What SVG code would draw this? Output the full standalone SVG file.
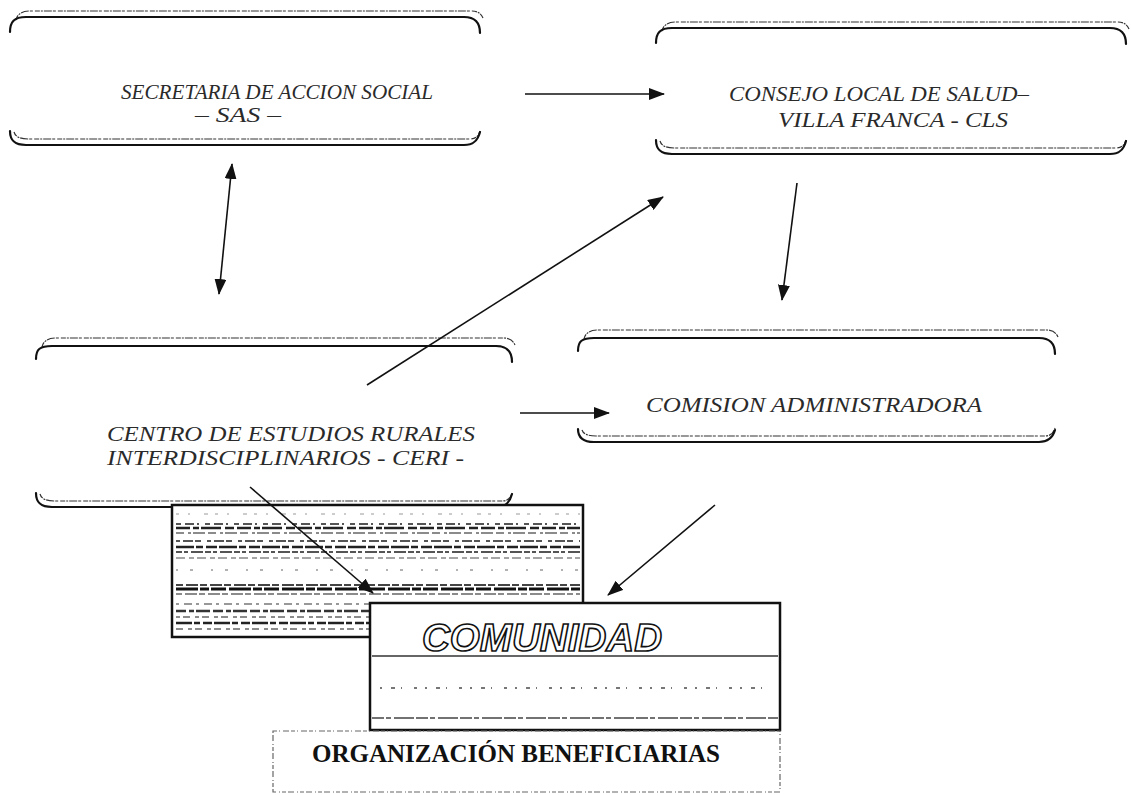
<svg xmlns="http://www.w3.org/2000/svg" width="1131" height="795" viewBox="0 0 1131 795">
<style>
.thick{fill:none;stroke:#111;stroke-width:2.2;stroke-linecap:round}
.thin{fill:none;stroke:#333;stroke-width:1.2;stroke-dasharray:5 1 2 1 8 1 3 2}
.lbl{font-family:"Liberation Serif","Times New Roman",serif;font-style:italic;font-size:21px;fill:#2a2a2a}
.con{fill:none;stroke:#111;stroke-width:1.6}
.noise{fill:none;stroke-linecap:butt}
</style>
<defs>
<marker id="ah" viewBox="0 0 16 12" refX="15" refY="6" markerWidth="16" markerHeight="12" markerUnits="userSpaceOnUse" orient="auto-start-reverse">
<path d="M0,0 L16,6 L0,12 z" fill="#111"/>
</marker>
</defs>
<rect width="1131" height="795" fill="#fff"/>

<g id="node-sas">
<path class="thin" d="M16,20 Q18,11 30,11 H472 Q480,11 483,18"/>
<path class="thick" d="M10,32 C10,22 14,17 26,17 H464 C475,17 480,22 480,33"/>
<path class="thin" d="M14,132 Q16,139 28,139 H470 Q478,139 480,131"/>
<path class="thick" d="M10,131 C10,140 14,145 26,145 H464 C474,145 478,140 480,132"/>
<text class="lbl" x="121" y="99" textLength="312" lengthAdjust="spacingAndGlyphs">SECRETARIA DE ACCION SOCIAL</text>
<text class="lbl" x="195" y="122" textLength="86" lengthAdjust="spacingAndGlyphs">– SAS –</text>
</g>

<g id="node-cls">
<path class="thin" d="M662,31 Q664,22 676,22 H1118 Q1126,22 1129,29"/>
<path class="thick" d="M656,43 C656,33 660,28 672,28 H1110 C1121,28 1126,33 1126,44"/>
<path class="thin" d="M660,141 Q662,148 674,148 H1116 Q1124,148 1126,140"/>
<path class="thick" d="M656,140 C656,149 660,154 672,154 H1110 C1120,154 1124,149 1126,141"/>
<text class="lbl" x="729" y="101" textLength="300" lengthAdjust="spacingAndGlyphs">CONSEJO LOCAL DE SALUD–</text>
<text class="lbl" x="778" y="127" textLength="230" lengthAdjust="spacingAndGlyphs">VILLA FRANCA - CLS</text>
</g>

<g id="node-ceri">
<path class="thin" d="M42,347 Q44,338 56,338 H504 Q512,338 515,345"/>
<path class="thick" d="M36,359 C36,349 40,346 52,346 H496 C507,346 512,351 512,362"/>
<path class="thin" d="M40,494 Q42,501 54,501 H502 Q510,501 512,493"/>
<path class="thick" d="M36,493 C36,502 40,507 52,507 H496 C506,507 510,502 512,494"/>
<text class="lbl" x="107" y="441" textLength="368" lengthAdjust="spacingAndGlyphs">CENTRO DE ESTUDIOS RURALES</text>
<text class="lbl" x="107" y="465" textLength="357" lengthAdjust="spacingAndGlyphs">INTERDISCIPLINARIOS  - CERI -</text>
</g>

<g id="node-comision">
<path class="thin" d="M584,339 Q586,330 598,330 H1047 Q1055,330 1058,337"/>
<path class="thick" d="M578,351 C578,341 582,338 594,338 H1039 C1050,338 1055,343 1055,354"/>
<path class="thin" d="M582,430 Q584,436 596,436 H1045 Q1053,436 1055,428"/>
<path class="thick" d="M578,429 C578,437 582,442 594,442 H1039 C1049,442 1053,437 1055,430"/>
<text class="lbl" x="646" y="412" textLength="336" lengthAdjust="spacingAndGlyphs">COMISION ADMINISTRADORA</text>
</g>

<g id="node-back">
<rect x="172" y="505" width="411" height="132" fill="#fff" stroke="#111" stroke-width="2.5"/>
<g class="noise">
<line x1="176" y1="514" x2="580" y2="514" stroke="#999" stroke-width="1.2" stroke-dasharray="3 9 2 14 4 7"/>
<line x1="176" y1="524" x2="580" y2="524" stroke="#555" stroke-width="2" stroke-dasharray="5 4 9 3 2 6"/>
<line x1="176" y1="528" x2="580" y2="528" stroke="#222" stroke-width="2.5" stroke-dasharray="14 3 6 2 20 4 9 3"/>
<line x1="176" y1="533" x2="580" y2="533" stroke="#666" stroke-width="1.5" stroke-dasharray="8 4 3 2 12 3"/>
<line x1="176" y1="541" x2="580" y2="541" stroke="#555" stroke-width="2" stroke-dasharray="4 3 10 2 6 6"/>
<line x1="176" y1="547" x2="580" y2="547" stroke="#222" stroke-width="2.5" stroke-dasharray="18 2 7 3 11 2"/>
<line x1="176" y1="552" x2="580" y2="552" stroke="#555" stroke-width="2" stroke-dasharray="6 2 4 3 12 2"/>
<line x1="176" y1="558" x2="580" y2="558" stroke="#888" stroke-width="1.5" stroke-dasharray="9 4 5 3"/>
<line x1="176" y1="570" x2="580" y2="570" stroke="#999" stroke-width="1.5" stroke-dasharray="2 12 3 18"/>
<line x1="176" y1="585" x2="580" y2="585" stroke="#444" stroke-width="2" stroke-dasharray="7 3 12 2"/>
<line x1="176" y1="589" x2="580" y2="589" stroke="#111" stroke-width="3" stroke-dasharray="22 2 9 2 15 3"/>
<line x1="176" y1="594" x2="580" y2="594" stroke="#666" stroke-width="1.5" stroke-dasharray="6 3 12 2"/>
<line x1="176" y1="604" x2="580" y2="604" stroke="#777" stroke-width="1.5" stroke-dasharray="3 5 8 4"/>
<line x1="176" y1="611" x2="580" y2="611" stroke="#333" stroke-width="2.5" stroke-dasharray="10 3 5 2 14 3"/>
<line x1="176" y1="617" x2="580" y2="617" stroke="#666" stroke-width="1.5" stroke-dasharray="4 3 7 5"/>
<line x1="176" y1="623" x2="580" y2="623" stroke="#222" stroke-width="2.5" stroke-dasharray="16 2 6 3 9 2"/>
<line x1="176" y1="629" x2="580" y2="629" stroke="#666" stroke-width="1.5" stroke-dasharray="7 5 4 3"/>
</g>
</g>

<g id="node-comunidad">
<rect x="370" y="603" width="410" height="127" fill="#fff" stroke="#111" stroke-width="2.5"/>
<line x1="372" y1="656" x2="778" y2="656" stroke="#333" stroke-width="1.5"/>
<line x1="380" y1="688" x2="770" y2="688" stroke="#777" stroke-width="2" stroke-dasharray="2 9 4 6 1 12 3 8"/>
<line x1="372" y1="718" x2="778" y2="718" stroke="#444" stroke-width="1.5" stroke-dasharray="12 2 5 3 20 2"/>
<text x="422" y="651" textLength="240" lengthAdjust="spacingAndGlyphs" style="font-family:'Liberation Sans',Arial,sans-serif;font-weight:bold;font-style:italic;font-size:38px;fill:#fff;stroke:#111;stroke-width:1.6">COMUNIDAD</text>
</g>

<g id="node-organizacion">
<rect x="273" y="731" width="507" height="61" fill="none" stroke="#666" stroke-width="1.2" stroke-dasharray="4 2 1 3 6 2"/>
<text x="312" y="762" textLength="408" lengthAdjust="spacingAndGlyphs" style="font-family:'Liberation Serif','Times New Roman',serif;font-weight:bold;font-size:25px;fill:#111">ORGANIZACIÓN BENEFICIARIAS</text>
</g>

<g id="connectors">
<path id="sas-cls" class="con" d="M525,94 L664,94" marker-end="url(#ah)"/>
<path id="sas-ceri" class="con" d="M219,294 L232,164" stroke-width="2" marker-start="url(#ah)" marker-end="url(#ah)"/>
<path id="ceri-cls" class="con" d="M367,385 L663,197" marker-end="url(#ah)"/>
<path id="cls-comision" class="con" d="M797,183 L782,300" marker-end="url(#ah)"/>
<path id="ceri-comision" class="con" d="M520,413 L609,413" marker-end="url(#ah)"/>
<path id="ceri-comunidad" class="con" d="M250,487 L373,593" marker-end="url(#ah)"/>
<path id="comision-comunidad" class="con" d="M715,505 L608,595" marker-end="url(#ah)"/>
</g>
</svg>
